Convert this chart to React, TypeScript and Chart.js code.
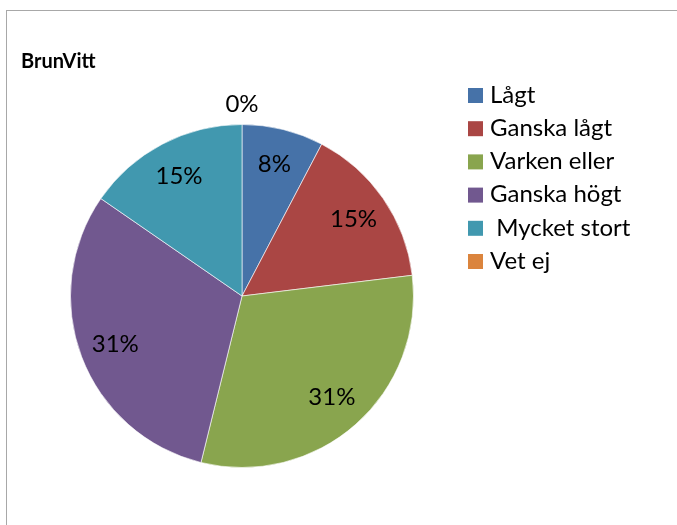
import React, { useEffect, useRef } from "react";
import { Chart, registerables } from "chart.js";

Chart.register(...registerables);

const chartTitle = "BrunVitt";
const categories = ["Lågt", "Ganska lågt", "Varken eller", "Ganska högt", " Mycket stort", "Vet ej"];
const counts = [1, 2, 4, 4, 2, 0];
const sliceColors = ["#4672A8", "#AA4644", "#89A54E", "#71588F", "#4198AF", "#DB843D"];

const FONT = "Lato, 'Open Sans', sans-serif";

const overlayPlugin = {
  id: "overlay",
  afterDatasetsDraw(chart: any) {
    const ctx = chart.ctx as CanvasRenderingContext2D;
    const meta = chart.getDatasetMeta(0);
    const data = chart.data.datasets[0].data as number[];
    const total = data.reduce((a, b) => a + b, 0);
    ctx.save();
    ctx.fillStyle = "#000";
    ctx.textAlign = "center";
    ctx.textBaseline = "middle";
    ctx.font = `24px ${FONT}`;
    meta.data.forEach((arc: any, i: number) => {
      const { x, y, startAngle, endAngle, outerRadius } = arc.getProps(
        ["x", "y", "startAngle", "endAngle", "outerRadius"],
        true
      );
      const mid = (startAngle + endAngle) / 2;
      const r = data[i] === 0 ? outerRadius * 1.12 : outerRadius * 0.79;
      const pct = Math.round((data[i] / total) * 100);
      ctx.fillText(`${pct}%`, x + Math.cos(mid) * r, y + Math.sin(mid) * r);
    });

    // title
    ctx.textAlign = "left";
    ctx.textBaseline = "alphabetic";
    ctx.font = `bold 20px ${FONT}`;
    ctx.fillText(chartTitle, 21, 68);

    // legend
    ctx.font = `24px ${FONT}`;
    ctx.textBaseline = "middle";
    chart.data.labels.forEach((lab: string, i: number) => {
      const cy = 95 + i * 33.2;
      ctx.fillStyle = sliceColors[i];
      ctx.fillRect(468, cy - 7, 15, 15);
      ctx.fillStyle = "#000";
      ctx.fillText(lab, 490, cy);
    });
    ctx.restore();
  },
};

export default function App() {
  const ref = useRef<HTMLCanvasElement>(null);
  useEffect(() => {
    if (!ref.current) return;
    const chart = new Chart(ref.current, {
      type: "pie",
      data: {
        labels: categories,
        datasets: [
          {
            data: counts,
            backgroundColor: sliceColors,
            borderColor: "rgba(255,255,255,0.6)",
            borderWidth: 1,
          },
        ],
      },
      options: {
        animation: false,
        responsive: false,
        events: [],
        layout: { padding: { left: 70, right: 263, top: 124, bottom: 57 } },
        plugins: {
          legend: { display: false },
          tooltip: { enabled: false },
        },
      },
      plugins: [overlayPlugin],
    });
    return () => chart.destroy();
  }, []);
  return (
    <div style={{ position: "fixed", left: 0, top: 0, width: 677, height: 525, background: "#fff", overflow: "hidden" }}>
      <div
        style={{
          position: "absolute",
          left: 6,
          top: 10,
          width: 700,
          height: 600,
          borderLeft: "1.5px solid #a8a8a8",
          borderTop: "1.5px solid #a8a8a8",
        }}
      />
      <canvas ref={ref} width={677} height={525} style={{ position: "absolute", left: 0, top: 0 }} />
    </div>
  );
}
